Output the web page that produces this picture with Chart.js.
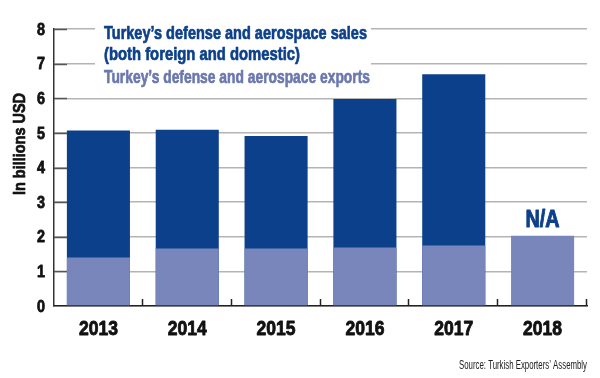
<!DOCTYPE html>
<html>
<head>
<meta charset="utf-8">
<script src="https://cdn.jsdelivr.net/npm/chart.js@4/dist/chart.umd.min.js"></script>
<style>
html,body{margin:0;padding:0;background:#fff;}
#wrap{width:600px;height:378px;position:relative;}
</style>
</head>
<body>
<div id="wrap"><canvas id="c" width="600" height="378"></canvas></div>
<script>
const years = ['2013', '2014', '2015', '2016', '2017', '2018'];
const salesTotal = [5.07, 5.09, 4.91, 5.98, 6.69, null];
const exportsVals = [1.40, 1.66, 1.66, 1.69, 1.75, 2.03];
const naLabels = ['', '', '', '', '', 'N/A'];
const yTicks = [0, 1, 2, 3, 4, 5, 6, 7, 8];
const legendSales = ["Turkey\u2019s defense and aerospace sales", "(both foreign and domestic)"];
const legendExports = "Turkey\u2019s defense and aerospace exports";
const yTitle = 'In billions USD';
const sourceText = "Source: Turkish Exporters\u2019 Assembly";

const DARK = '#0c408a';
const LIGHT = '#7886bb';
const LIGHT_TEXT = '#6a78ae';
const FONT = '"Liberation Sans", Arial, sans-serif';

function heavyText(ctx, text, x, y, maxW, sw) {
  ctx.lineWidth = sw;
  ctx.lineJoin = 'round';
  ctx.strokeStyle = ctx.fillStyle;
  ctx.strokeText(text, x, y, maxW);
  ctx.fillText(text, x, y, maxW);
}

const overlayPlugin = {
  id: 'overlay',
  afterDraw(chart) {
    const ctx = chart.ctx;
    const area = chart.chartArea;
    const xs = chart.scales.x;
    const ys = chart.scales.y;
    ctx.save();
    // inner dark ticks on y axis
    ctx.strokeStyle = '#555';
    ctx.lineWidth = 1.5;
    ys.ticks.forEach((t, i) => {
      if (t.value === 0) return;
      const py = Math.round(ys.getPixelForTick(i)) + 0.5;
      ctx.beginPath();
      ctx.moveTo(area.left, py);
      ctx.lineTo(area.left + 13, py);
      ctx.stroke();
    });
    // upward ticks on x axis at category boundaries
    ctx.strokeStyle = '#222';
    const half = (xs.getPixelForValue(1) - xs.getPixelForValue(0)) / 2;
    years.forEach((y, i) => {
      const px = Math.round(xs.getPixelForValue(i) + half) - 0.5;
      ctx.beginPath();
      ctx.moveTo(px, area.bottom);
      ctx.lineTo(px, area.bottom - 7);
      ctx.stroke();
    });
    // y tick labels (condensed)
    ctx.fillStyle = '#111';
    ctx.font = 'bold 17px ' + FONT;
    ctx.textAlign = 'right';
    ctx.textBaseline = 'middle';
    ys.ticks.forEach((t, i) => {
      const s = String(t.value);
      heavyText(ctx, s, area.left - 9, ys.getPixelForTick(i) + 1, 8 * s.length, 0.8);
    });
    // x tick labels (condensed)
    ctx.font = 'bold 21px ' + FONT;
    ctx.textAlign = 'center';
    years.forEach((y, i) => {
      heavyText(ctx, y, xs.getPixelForValue(i), area.bottom + 23, 39, 0.9);
    });
    // legend block with white background
    ctx.fillStyle = '#fff';
    ctx.fillRect(95, 20, 276, 68);
    ctx.textBaseline = 'alphabetic';
    ctx.textAlign = 'left';
    ctx.font = 'bold 19px ' + FONT;
    ctx.fillStyle = DARK;
    heavyText(ctx, legendSales[0], 104, 39, 263, 0.7);
    heavyText(ctx, legendSales[1], 104, 60, 196, 0.7);
    ctx.fillStyle = LIGHT_TEXT;
    heavyText(ctx, legendExports, 104, 83, 266, 0.7);
    // N/A labels
    ctx.font = 'bold 24px ' + FONT;
    ctx.fillStyle = DARK;
    ctx.textAlign = 'center';
    naLabels.forEach((t, i) => {
      if (!t) return;
      const px = xs.getPixelForValue(i);
      const py = ys.getPixelForValue(exportsVals[i]);
      heavyText(ctx, t, px, py - 9, 34, 1);
    });
    // y axis title
    ctx.save();
    ctx.translate(25, 144);
    ctx.rotate(-Math.PI / 2);
    ctx.font = 'bold 16px ' + FONT;
    ctx.fillStyle = '#111';
    ctx.textAlign = 'center';
    heavyText(ctx, yTitle, 0, 0, 102, 0.7);
    ctx.restore();
    // source
    ctx.font = '12px ' + FONT;
    ctx.fillStyle = '#222';
    ctx.textAlign = 'right';
    ctx.fillText(sourceText, 587, 369, 128);
    ctx.restore();
  }
};

new Chart(document.getElementById('c'), {
  type: 'bar',
  data: {
    labels: years,
    datasets: [
      { label: legendExports, data: exportsVals, backgroundColor: LIGHT, grouped: false, barPercentage: 0.71, categoryPercentage: 1 },
      { label: legendSales.join(' '), data: salesTotal, backgroundColor: DARK, grouped: false, barPercentage: 0.71, categoryPercentage: 1 }
    ]
  },
  options: {
    responsive: false,
    animation: false,
    layout: { padding: { top: 29, right: 13, left: 0, bottom: 0 } },
    plugins: { legend: { display: false }, tooltip: { enabled: false }, title: { display: false } },
    scales: {
      x: {
        grid: { display: false, drawTicks: false },
        border: { display: true, color: '#222', width: 1.5 },
        ticks: { display: false },
        afterFit(s) { s.height = 72; }
      },
      y: {
        min: 0, max: 8,
        afterBuildTicks(s) { s.ticks = yTicks.map(v => ({ value: v })); },
        grid: { color: '#b4b4b4', lineWidth: 1.5, drawTicks: false },
        border: { display: true, color: '#333', width: 1.5 },
        ticks: { display: false },
        afterFit(s) { s.width = 54; }
      }
    }
  },
  plugins: [overlayPlugin]
});
</script>
</body>
</html>
